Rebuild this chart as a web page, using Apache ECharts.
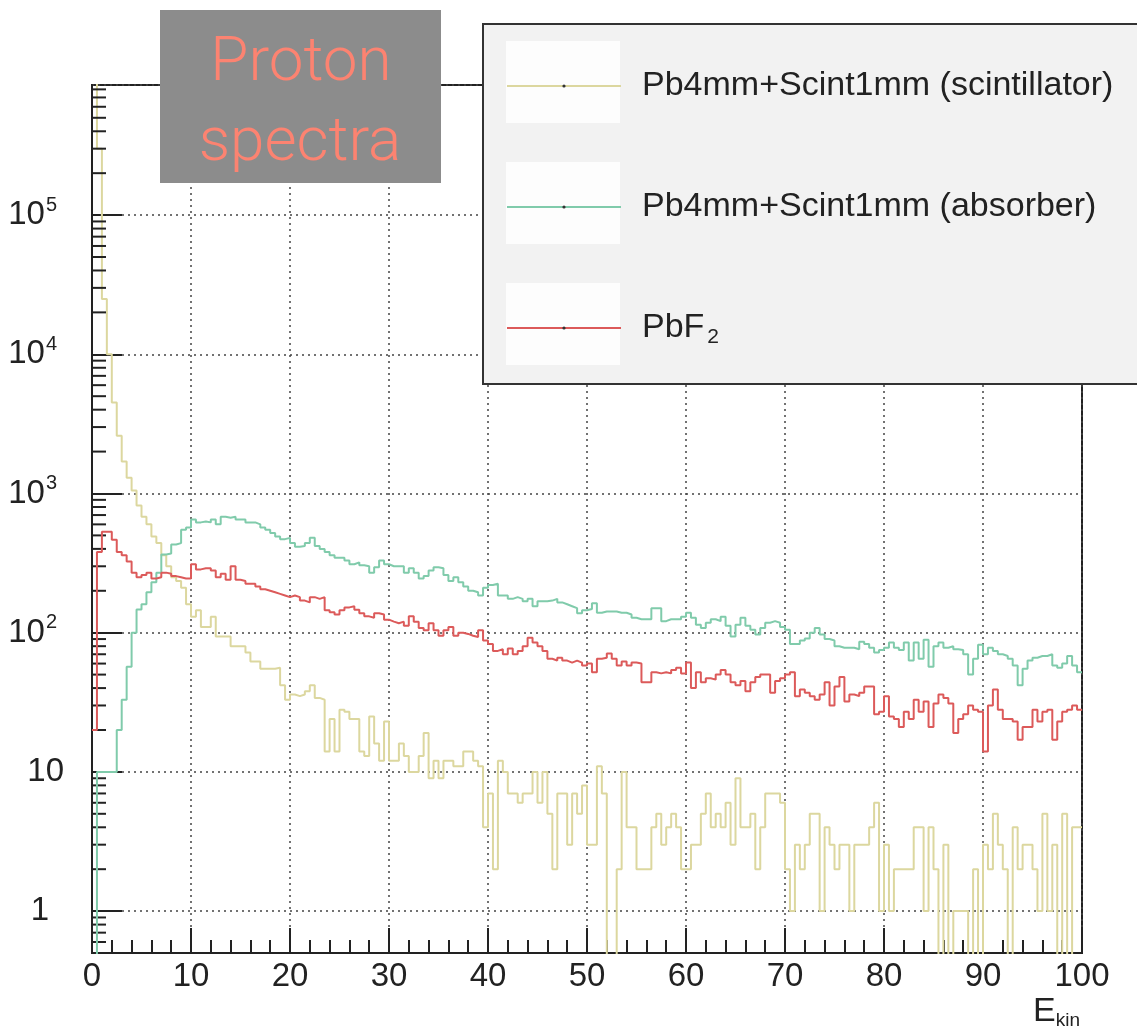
<!DOCTYPE html>
<html><head><meta charset="utf-8">
<script src="https://cdn.jsdelivr.net/npm/echarts@6/dist/echarts.min.js"></script>
<style>html,body{margin:0;padding:0;background:#fff}#c{width:1137px;height:1033px}</style>
</head><body><div id="c"></div>
<script>
// ---------- data (bins of 0.5 in E_kin, from 0 to 100) ----------
const binWidth = 0.5;
const seriesNames = ['Pb4mm+Scint1mm (scintillator)', 'Pb4mm+Scint1mm (absorber)', 'PbF2'];
const scint = [
 2000000,300000,25000,10000,4500,2600,1700,1300,1050,820,
 680,600,490,440,360,300,250,235,210,160,
 130,145,110,110,130,94,94,94,80,80,
 80,72,62,62,55,55,55,56,42,33,
 36,35,36,38,42,34,33,14,24,14,
 28,27,24,24,14,13,25,16,12,23,
 12,12,16,13,10,10,13,19,9,12,
 9,12,12,11,11,14,14,12,11,4,
 7,2,12,10,7,7,6,7,7,10,
 6,10,5,2,7,7,3,7,5,8,
 3,3,11,7,0,0,2,10,4,4,
 2,2,2,4,5,3,4,5,4,2,
 2,3,3,5,7,4,5,4,6,3,
 9,4,4,5,2,4,7,7,7,6,
 2,1,3,2,3,5,5,1,4,3,
 2,3,3,1,3,3,3,4,6,1,
 3,1,2,2,2,2,4,4,1,4,
 2,0,3,0,1,1,1,0,2,0,
 3,2,5,3,2,0,4,2,3,3,
 2,1,5,1,3,0,5,0,4,4
];
const absorber = [
 0,10,10,10,10,20,33,57,100,147,
 160,195,230,270,365,370,430,440,550,570,
 650,620,630,620,650,600,680,670,680,650,
 650,620,620,600,570,550,520,490,470,480,
 440,415,420,440,480,420,400,380,360,345,
 345,330,310,320,305,300,270,295,330,310,
 300,300,300,270,290,270,245,255,280,295,
 290,260,235,250,230,215,200,195,185,210,
 220,225,185,185,175,180,175,168,175,155,
 168,168,170,175,165,160,155,150,138,145,
 148,163,139,142,142,142,139,139,135,128,
 125,125,125,150,150,121,125,125,125,130,
 139,128,114,108,118,125,121,130,112,94,
 114,128,112,105,97,108,118,121,118,110,
 105,83,83,88,91,100,108,97,90,88,
 80,78,78,78,76,86,83,78,72,75,
 78,85,78,75,85,63,85,65,89,57,
 80,85,78,80,76,75,70,50,65,82,
 70,78,74,70,68,65,58,42,55,63,
 66,68,68,70,58,56,60,68,58,52
];
const pbf2 = [
 20,380,530,530,465,380,360,325,270,250,
 260,270,245,250,270,265,255,250,245,245,
 310,285,290,290,280,250,265,240,300,240,
 235,225,225,215,205,200,195,190,185,180,
 185,180,170,165,180,175,180,145,140,135,
 145,152,155,146,138,131,128,138,135,124,
 120,117,120,112,131,120,108,104,117,104,
 95,104,110,95,100,98,95,93,104,88,
 83,74,76,70,77,70,74,80,92,85,
 80,74,65,63,66,63,61,63,61,58,
 60,52,65,66,71,65,58,62,58,61,
 60,44,44,52,51,52,51,54,56,51,
 61,40,52,44,47,46,50,54,50,44,
 42,45,38,44,48,50,50,37,45,47,
 50,52,35,39,37,35,33,36,44,30,
 41,48,32,36,35,37,41,41,26,27,
 35,25,24,21,27,24,33,27,32,21,
 31,36,34,31,19,24,26,30,28,27,
 14,30,39,28,24,24,23,17,21,21,
 28,23,27,28,17,23,27,28,30,28
];
const yLabelExponents = [0, 1, 2, 3, 4, 5];
const yMinorTicks = [0.6,0.7,0.8,0.9, 2,3,4,5,6,7,8,9, 20,30,40,50,60,70,80,90,
  200,300,400,500,600,700,800,900, 2000,3000,4000,5000,6000,7000,8000,9000,
  20000,30000,40000,50000,60000,70000,80000,90000, 200000,300000,400000,500000,600000,700000,800000];
const xAxisTitle = 'E';
const xAxisTitleSub = 'kin';
const boxTitle = ['Proton', 'spectra'];

// ---------- chart ----------
const colors = ['#dcd79f', '#80cbab', '#dc5a5a'];
const Y_MIN = 0.5, Y_MAX = 860000, ZERO_FLOOR = 0.1;

function toSteps(vals) {
  const pts = vals.map((v, i) => [i * binWidth, v > 0 ? v : ZERO_FLOOR]);
  const last = vals[vals.length - 1];
  pts.push([vals.length * binWidth, last > 0 ? last : ZERO_FLOOR]);
  return pts;
}

const font = 'Liberation Sans, Arial, sans-serif';
const chart = echarts.init(document.getElementById('c'), null, {renderer: 'canvas'});

const lineSeries = [scint, absorber, pbf2].map((vals, k) => ({
  name: seriesNames[k],
  type: 'line',
  step: 'end',
  data: toSteps(vals),
  showSymbol: false,
  symbol: 'circle',
  clip: true,
  z: 3 + k,
  lineStyle: {color: colors[k], width: 2},
  itemStyle: {color: colors[k]},
  emphasis: {disabled: true}
}));

chart.setOption({
  animation: false,
  backgroundColor: '#ffffff',
  grid: {left: 92, right: 55, top: 85, bottom: 80, show: true, borderColor: '#222', borderWidth: 2, backgroundColor: 'transparent'},
  xAxis: {
    type: 'value', min: 0, max: 100, interval: 10,
    axisLine: {show: true, lineStyle: {color: '#222', width: 2}},
    axisTick: {show: true, inside: true, length: 25, lineStyle: {color: '#222', width: 2}},
    minorTick: {show: true, splitNumber: 5, length: 13, lineStyle: {color: '#222', width: 2}},
    splitLine: {show: true, lineStyle: {color: '#444', type: [2, 4], width: 1.5}},
    axisLabel: {fontFamily: font, fontSize: 33, color: '#222', margin: 7},
    name: '{e|' + xAxisTitle + '}{k|' + xAxisTitleSub + '}',
    nameLocation: 'end', nameGap: -2,
    nameTextStyle: {align: 'right', verticalAlign: 'top', padding: [40, 0, 0, 0],
      rich: {e: {fontFamily: font, fontSize: 34, color: '#222'},
             k: {fontFamily: font, fontSize: 19, color: '#222', padding: [18, 0, 0, 0]}}}
  },
  yAxis: {
    type: 'log', logBase: 10, min: Y_MIN, max: Y_MAX,
    axisLine: {show: true, lineStyle: {color: '#222', width: 2}},
    axisTick: {show: true, inside: true, length: 30, lineStyle: {color: '#222', width: 2}},
    splitLine: {show: true, lineStyle: {color: '#444', type: [2, 4], width: 1.5}},
    axisLabel: {
      fontFamily: font, fontSize: 33, color: '#222', margin: 28,
      showMinLabel: false, showMaxLabel: false,
      formatter: function (v) {
        const lg = Math.log10(v), e = Math.round(lg);
        if (Math.abs(lg - e) > 1e-6 || yLabelExponents.indexOf(e) < 0) return '';
        if (e === 0) return '{one|1}';
        if (e === 1) return '10';
        return '10{sup|' + e + '}';
      },
      rich: {
        sup: {fontFamily: font, fontSize: 20, color: '#222', padding: [0, 7, 20, 1]},
        one: {fontFamily: font, fontSize: 33, color: '#222', padding: [0, 15, 0, 0]}
      }
    }
  },
  legend: {
    data: seriesNames, orient: 'vertical', left: 506, top: 66,
    itemWidth: 114, itemHeight: 4, itemGap: 81, selectedMode: false,
    itemStyle: {color: '#333'}, z: 10, padding: 0,
    formatter: n => n === 'PbF2' ? 'PbF{sub|2}' : n,
    textStyle: {fontFamily: font, fontSize: 34, color: '#222', lineHeight: 40, padding: [0, 0, 0, 16],
      rich: {sub: {fontFamily: font, fontSize: 21, color: '#222', padding: [18, 0, 0, 3]}}}
  },
  graphic: [
    {type: 'rect', z: 5, shape: {x: 483, y: 24, width: 700, height: 360},
     style: {fill: '#f2f2f2', stroke: '#333', lineWidth: 2}},
    {type: 'rect', z: 6, shape: {x: 506, y: 41, width: 114, height: 82}, style: {fill: '#fdfdfd'}},
    {type: 'rect', z: 6, shape: {x: 506, y: 162, width: 114, height: 82}, style: {fill: '#fdfdfd'}},
    {type: 'rect', z: 6, shape: {x: 506, y: 283, width: 114, height: 82}, style: {fill: '#fdfdfd'}},
    {type: 'rect', z: 5, shape: {x: 160, y: 10, width: 281, height: 173}, style: {fill: '#8c8c8c'}},
    {type: 'text', z: 6, x: 301, y: 64, style: {text: boxTitle[0], fill: '#fc8371', font: '300 62px Roboto, sans-serif', textAlign: 'center', textVerticalAlign: 'middle'}},
    {type: 'text', z: 6, x: 300, y: 144, style: {text: boxTitle[1], fill: '#fc8371', font: '300 62px Roboto, sans-serif', textAlign: 'center', textVerticalAlign: 'middle'}}
  ],
  series: lineSeries.concat([{
    name: 'minorTicks', type: 'custom', z: 4, silent: true,
    data: yMinorTicks.map(v => [0, v]),
    encode: {x: 0, y: 1},
    renderItem: function (params, api) {
      const p = api.coord([0, api.value(1)]);
      return {type: 'line', shape: {x1: p[0], y1: p[1], x2: p[0] + 14, y2: p[1]},
              style: {stroke: '#222', lineWidth: 2}};
    }
  }])
});
</script></body></html>
